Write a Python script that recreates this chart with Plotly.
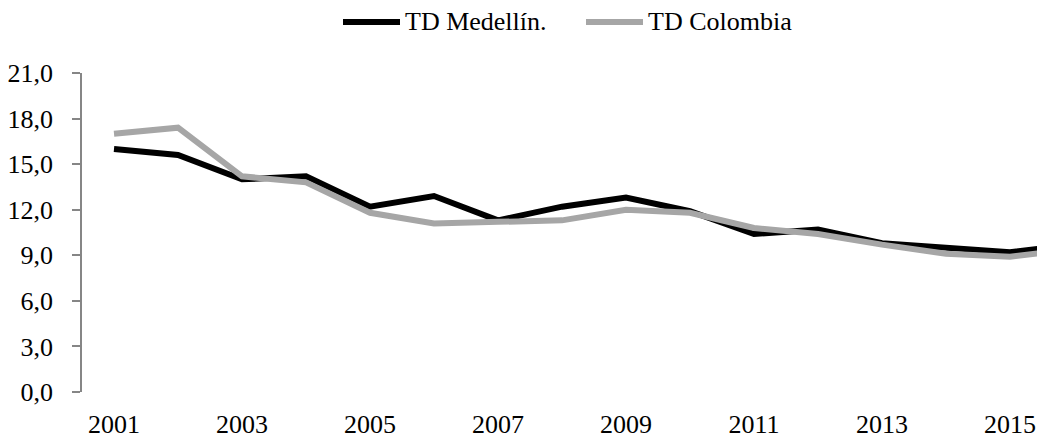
import plotly.graph_objects as go

years = list(range(2001, 2017))
td_medellin = [16.0, 15.6, 14.0, 14.2, 12.2, 12.9, 11.3, 12.2, 12.8, 11.9, 10.4, 10.7, 9.8, 9.5, 9.2, 9.7]
td_colombia = [17.0, 17.4, 14.2, 13.8, 11.8, 11.1, 11.2, 11.3, 12.0, 11.8, 10.8, 10.4, 9.7, 9.1, 8.9, 9.4]
series_names = ["TD Medellín.", "TD Colombia"]
series_colors = ["#000000", "#A6A6A6"]
y_ticks = [0, 3, 6, 9, 12, 15, 18, 21]
x_ticks = [2001, 2003, 2005, 2007, 2009, 2011, 2013, 2015]

FONT = "Liberation Serif"
FS = 26
OFF = 8  # the page body adds an 8px margin

fig = go.Figure()
for name, vals, col in zip(series_names, [td_medellin, td_colombia], series_colors):
    fig.add_trace(go.Scatter(x=years, y=vals, name=name, mode="lines",
                             line=dict(color=col, width=6), showlegend=False))

W, H = 1045, 442
L, T, B = 82 - OFF, 73 - OFF, H - (392 - OFF)
pw, ph = W - L, H - T - B
def px(x):
    return (x - OFF - L) / pw
def py(y):
    return (H - B - (y - OFF)) / ph

# legend drawn by hand so the sample lines have the same length as the original
legend_items = [(343, 400, 403), (586, 643, 646)]
for (x0, x1, xt), name, col in zip(legend_items, series_names, series_colors):
    fig.add_shape(type="line", xref="paper", yref="paper", x0=px(x0), x1=px(x1),
                  y0=py(22), y1=py(22), line=dict(color=col, width=6))
    fig.add_annotation(xref="paper", yref="paper", x=px(xt), y=py(22), text=name,
                       showarrow=False, xanchor="left", yanchor="middle",
                       font=dict(family=FONT, size=FS, color="#000000"))

fig.update_layout(
    width=W, height=H,
    margin=dict(l=L, r=0, t=T, b=B),
    plot_bgcolor="white", paper_bgcolor="white",
    separators=",.",
    font=dict(family=FONT, size=FS, color="#000000"),
    showlegend=False,
)
fig.update_xaxes(range=[2000.5, 2000.5 + pw / 64.0], tickvals=x_ticks,
                 showgrid=False, zeroline=False, showline=False,
                 ticks="outside", ticklen=9, tickcolor="rgba(0,0,0,0)")
fig.update_yaxes(range=[0, 21], tickvals=y_ticks, tickformat=".1f",
                 showgrid=False, zeroline=False, showline=True,
                 linecolor="#868686", linewidth=1.5,
                 ticks="outside", ticklen=8, tickcolor="#868686", tickwidth=1.5,
                 ticklabelstandoff=14)

fig.write_html("out.html")
